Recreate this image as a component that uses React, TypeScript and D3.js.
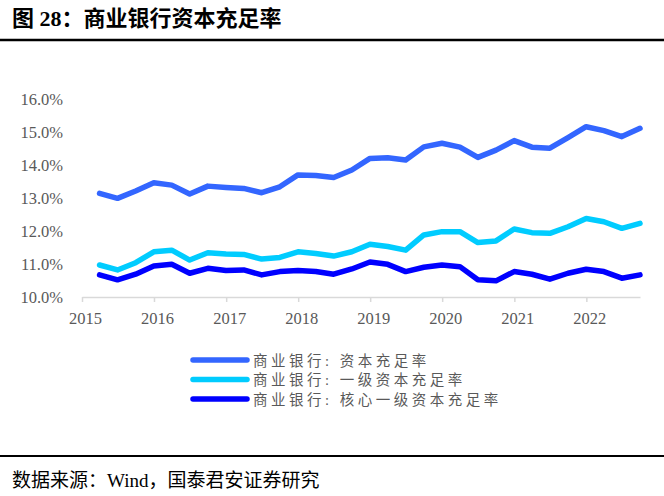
import React, { useEffect, useRef } from 'react';
import * as d3 from 'd3';

// quarter-end dates, 2015Q1 .. 2022Q3
const quarters: string[] = [
  '2015-03-31', '2015-06-30', '2015-09-30', '2015-12-31',
  '2016-03-31', '2016-06-30', '2016-09-30', '2016-12-31',
  '2017-03-31', '2017-06-30', '2017-09-30', '2017-12-31',
  '2018-03-31', '2018-06-30', '2018-09-30', '2018-12-31',
  '2019-03-31', '2019-06-30', '2019-09-30', '2019-12-31',
  '2020-03-31', '2020-06-30', '2020-09-30', '2020-12-31',
  '2021-03-31', '2021-06-30', '2021-09-30', '2021-12-31',
  '2022-03-31', '2022-06-30', '2022-09-30',
];

// 资本充足率 (%)
const carValues: number[] = [
  13.14, 12.99, 13.21, 13.46, 13.39, 13.12, 13.36, 13.32,
  13.29, 13.16, 13.34, 13.7, 13.68, 13.62, 13.85, 14.2,
  14.22, 14.15, 14.55, 14.66, 14.54, 14.23, 14.45, 14.74,
  14.54, 14.51, 14.83, 15.16, 15.04, 14.86, 15.11,
];

// 一级资本充足率 (%)
const tier1Values: number[] = [
  10.97, 10.82, 11.04, 11.37, 11.42, 11.12, 11.34, 11.3,
  11.29, 11.15, 11.2, 11.37, 11.32, 11.24, 11.37, 11.6,
  11.53, 11.42, 11.88, 11.98, 11.98, 11.65, 11.7, 12.06,
  11.95, 11.93, 12.13, 12.38, 12.28, 12.08, 12.23,
];

// 核心一级资本充足率 (%)
const coreValues: number[] = [
  10.67, 10.52, 10.69, 10.94, 10.99, 10.72, 10.87, 10.8,
  10.82, 10.67, 10.77, 10.8, 10.77, 10.69, 10.85, 11.06,
  10.99, 10.77, 10.9, 10.97, 10.92, 10.52, 10.49, 10.77,
  10.69, 10.54, 10.72, 10.84, 10.77, 10.57, 10.67,
];

const seriesNames: string[] = [
  '商业银行: 资本充足率',
  '商业银行: 一级资本充足率',
  '商业银行: 核心一级资本充足率',
];
const seriesColors: string[] = ['#3366ff', '#00ccff', '#0000ff'];

const yTicks: number[] = [10, 11, 12, 13, 14, 15, 16];
const yearTicks: number[] = [2015, 2016, 2017, 2018, 2019, 2020, 2021, 2022];

const W = 664;
const H = 496;
const serif = '"Liberation Serif", "Times New Roman", serif';
const cjk = '"Liberation Serif", "Noto Sans CJK SC", serif';

export default function App() {
  const svgRef = useRef<SVGSVGElement>(null);

  useEffect(() => {
    const svg = d3.select(svgRef.current);
    svg.selectAll('*').remove();

    const parse = d3.timeParse('%Y-%m-%d');
    const dates = quarters.map((q) => parse(q) as Date);

    const x = d3
      .scaleTime()
      .domain([new Date(2015, 0, 1), new Date(2022, 8, 30)])
      .range([82, 640]);
    const y = d3.scaleLinear().domain([10, 16]).range([297, 99]);

    // title + rules
    svg
      .append('text')
      .attr('x', 12)
      .attr('y', 26)
      .attr('font-family', cjk)
      .attr('font-weight', 'bold')
      .attr('font-size', 22)
      .attr('fill', '#000')
      .text('图 28：商业银行资本充足率');
    svg.append('line').attr('x1', 0).attr('x2', W).attr('y1', 40).attr('y2', 40)
      .attr('stroke', '#000').attr('stroke-width', 2.5);
    svg.append('line').attr('x1', 0).attr('x2', W).attr('y1', 456).attr('y2', 456)
      .attr('stroke', '#000').attr('stroke-width', 2);
    svg
      .append('text')
      .attr('x', 12)
      .attr('y', 487)
      .attr('font-family', cjk)
      .attr('font-size', 19)
      .attr('fill', '#000')
      .text('数据来源：Wind，国泰君安证券研究');

    // y labels (no axis line)
    svg
      .append('g')
      .selectAll('text')
      .data(yTicks)
      .join('text')
      .attr('x', 63)
      .attr('y', (d) => y(d) + 5.5)
      .attr('text-anchor', 'end')
      .attr('font-family', serif)
      .attr('font-size', 16.5)
      .attr('fill', '#595959')
      .text((d) => d3.format('.1f')(d) + '%');

    // x axis
    const xAxis = d3
      .axisBottom(x)
      .tickValues(yearTicks.map((yr) => new Date(yr, 0, 1)))
      .tickFormat((d) => d3.timeFormat('%Y')(d as Date))
      .tickSize(5)
      .tickSizeOuter(0);
    const gx = svg.append('g').attr('transform', 'translate(0,297)').call(xAxis);
    gx.select('.domain').attr('stroke', '#d9d9d9').attr('stroke-width', 1.5);
    gx.selectAll('.tick line').attr('stroke', '#d9d9d9').attr('stroke-width', 1.5);
    gx.selectAll('.tick text')
      .attr('dy', 0)
      .attr('y', 27)
      .attr('dx', 3)
      .attr('font-family', serif)
      .attr('font-size', 16.5)
      .attr('fill', '#595959');

    // lines
    const allSeries = [carValues, tier1Values, coreValues];
    const line = d3
      .line<number>()
      .x((_, i) => x(dates[i]))
      .y((d) => y(d));
    svg
      .append('g')
      .selectAll('path')
      .data(allSeries)
      .join('path')
      .attr('d', (d) => line(d))
      .attr('fill', 'none')
      .attr('stroke', (_, i) => seriesColors[i])
      .attr('stroke-width', 5.5)
      .attr('stroke-linejoin', 'round')
      .attr('stroke-linecap', 'round');

    // legend
    const lg = svg.append('g');
    const rowY = (i: number) => 360 + i * 19.5;
    lg.selectAll('line')
      .data(seriesNames)
      .join('line')
      .attr('x1', 193)
      .attr('x2', 247)
      .attr('y1', (_, i) => rowY(i))
      .attr('y2', (_, i) => rowY(i))
      .attr('stroke', (_, i) => seriesColors[i])
      .attr('stroke-width', 5.5)
      .attr('stroke-linecap', 'round');
    lg.selectAll('text')
      .data(seriesNames)
      .join('text')
      .attr('x', 253)
      .attr('y', (_, i) => rowY(i) + 5.5)
      .attr('font-family', cjk)
      .attr('font-size', 14.5)
      .attr('letter-spacing', 3.5)
      .attr('fill', '#595959')
      .text((d) => d);
  }, []);

  return (
    <svg
      ref={svgRef}
      width={W}
      height={H}
      style={{ position: 'absolute', left: 0, top: 0, background: '#fff' }}
    />
  );
}
